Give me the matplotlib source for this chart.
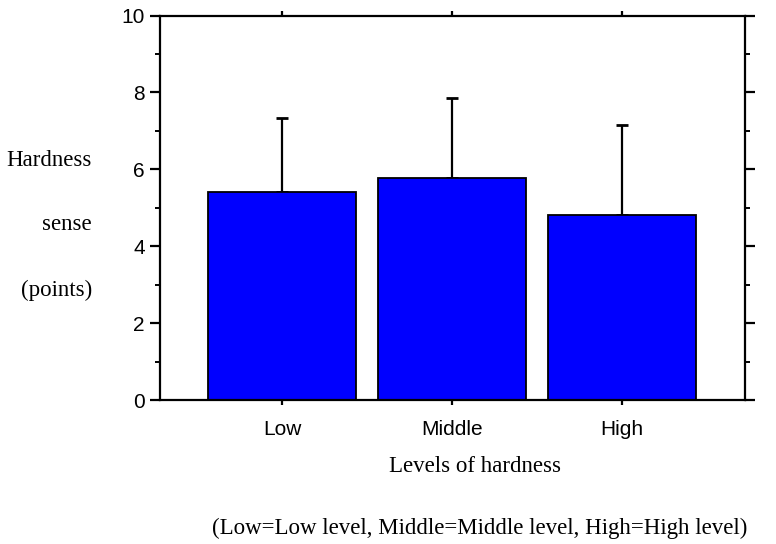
import matplotlib
matplotlib.use("Agg")
import matplotlib.pyplot as plt
from matplotlib.ticker import MultipleLocator

categories = ["Low", "Middle", "High"]
means = [5.41, 5.77, 4.81]
sds = [1.93, 2.08, 2.33]
yticks = [0, 2, 4, 6, 8, 10]

fig = plt.figure(figsize=(7.76, 5.44), dpi=100)
ax = fig.add_axes([160/776, 1-400/544, 585/776, 384.5/544])

x = list(range(1, len(categories)+1))
ax.bar(x, means, width=0.876, color="#0000ff", edgecolor="black", linewidth=1.3, zorder=2)
ax.errorbar(x, means, yerr=[[0]*len(sds), sds], fmt="none", ecolor="black",
            elinewidth=1.6, capsize=4, capthick=2, zorder=1)

ax.set_xlim(1 - 122/170, 3 + 123/170)
ax.set_ylim(0, 10)
ax.set_yticks(yticks)
ax.yaxis.set_minor_locator(MultipleLocator(1))
ax.set_xticks(x)
ax.set_xticklabels(categories)

for s in ax.spines.values():
    s.set_linewidth(1.6)

ax.tick_params(axis="y", which="major", direction="out", length=7, width=1.6,
               left=True, right=True, labelsize=15, pad=4)
ax.tick_params(axis="y", which="minor", direction="out", length=3.5, width=1.4,
               left=True, right=True)
ax.tick_params(axis="x", which="major", direction="out", length=3.5, width=1.6,
               bottom=True, top=True, labelsize=15, pad=11)
for lab in ax.get_xticklabels() + ax.get_yticklabels():
    lab.set_fontfamily("Liberation Sans")

serif = "Liberation Serif"
fs = 16.5
fig.text(92/776, 1-160/544, "Hardness", ha="right", va="center", family=serif, fontsize=fs)
fig.text(92/776, 1-225/544, "sense", ha="right", va="center", family=serif, fontsize=fs)
fig.text(92/776, 1-290/544, "(points)", ha="right", va="center", family=serif, fontsize=fs)
fig.text(475/776, 1-466/544, "Levels of hardness", ha="center", va="center", family=serif, fontsize=fs)
fig.text(480/776, 1-528/544, "(Low=Low level, Middle=Middle level, High=High level)",
         ha="center", va="center", family=serif, fontsize=fs)

fig.savefig("out.png", dpi=100)
